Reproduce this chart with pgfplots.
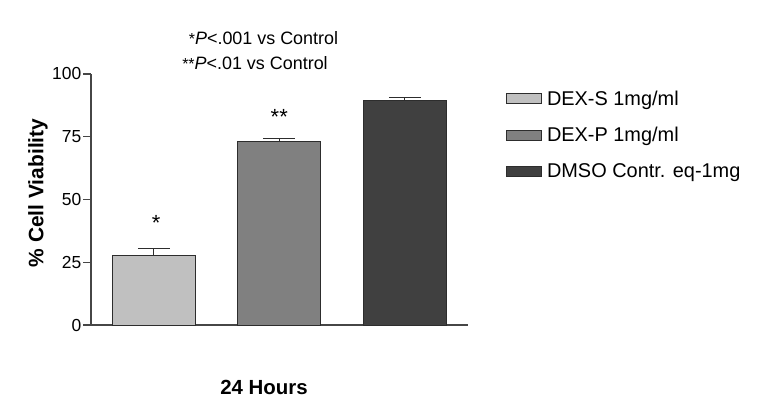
\documentclass[border=0pt]{standalone}
\usepackage{fontspec}
\setmainfont{Liberation Sans}
\usepackage{pgfplots}
\pgfplotsset{compat=1.18}
\definecolor{barA}{RGB}{192,192,192}
\definecolor{barB}{RGB}{128,128,128}
\definecolor{barC}{RGB}{64,64,64}
\definecolor{edge}{RGB}{45,45,45}
\definecolor{axisc}{RGB}{70,70,70}
\begin{document}
\begin{tikzpicture}[x=1bp,y=1bp]
\useasboundingbox (0,0) rectangle (764,418);
\begin{axis}[
  at={(91bp,93bp)}, anchor=south west,
  scale only axis, width=376.5bp, height=251bp,
  xmin=0.5, xmax=3.5, ymin=0, ymax=100,
  axis x line*=bottom, axis y line*=left,
  xtick=\empty, ytick={0,25,50,75,100},
  tick align=outside, major tick length=8bp,
  axis line style={line width=1.1bp, color=axisc},
  every tick/.style={line width=1.1bp, color=axisc},
  tick label style={font=\fontsize{17.5}{19}\selectfont},
  yticklabel style={inner xsep=1.5bp},
  /pgf/number format/assume math mode=true,
  clip=false,
  legend style={draw=none, fill=none, at={(1.102,0.95)}, anchor=north west,
    font=\fontsize{20}{22}\selectfont, row sep=16.5bp, inner xsep=0pt},
  legend cell align=left,
  legend image code/.code={\draw[#1, line width=0.9bp] (0bp,-5bp) rectangle (35bp,5bp); \path (38bp,0bp);},
  error bars/y dir=plus, error bars/y explicit,
  error bars/error bar style={line width=1.1bp, color=edge},
  error bars/error mark options={line width=1.1bp, color=edge, mark size=16bp, rotate=90},
]
\addplot[ybar, bar width=83bp, bar shift=0pt, fill=barA, draw=edge, line width=0.9bp]
  coordinates {(1,27.6) +- (0,2.9)};
\addlegendentry{DEX-S 1mg/ml}
\addplot[ybar, bar width=83bp, bar shift=0pt, fill=barB, draw=edge, line width=0.9bp]
  coordinates {(2,73.0) +- (0,1.2)};
\addlegendentry{DEX-P 1mg/ml}
\addplot[ybar, bar width=83bp, bar shift=0pt, fill=barC, draw=edge, line width=0.9bp]
  coordinates {(3,89.6) +- (0,1.2)};
\addlegendentry{DMSO Contr. eq-1mg}
\node[anchor=base, font=\fontsize{22}{24}\selectfont] at (axis cs:1.02,37.5) {*};
\node[anchor=base, font=\fontsize{22}{24}\selectfont] at (axis cs:2,80.0) {**};
\end{axis}
\node[font=\fontsize{18}{20}\selectfont] at (263.5,380) {{\fontsize{16}{16}\selectfont *}\textit{P}<.001 vs Control};
\node[font=\fontsize{18}{20}\selectfont] at (255,355) {{\fontsize{16}{16}\selectfont **}\textit{P}<.01 vs Control};
\node[rotate=90, font=\fontsize{21}{23}\selectfont\bfseries] at (38,225) {\% Cell Viability};
\node[font=\fontsize{20.5}{22}\selectfont\bfseries] at (264,31) {24 Hours};
\end{tikzpicture}
\end{document}
